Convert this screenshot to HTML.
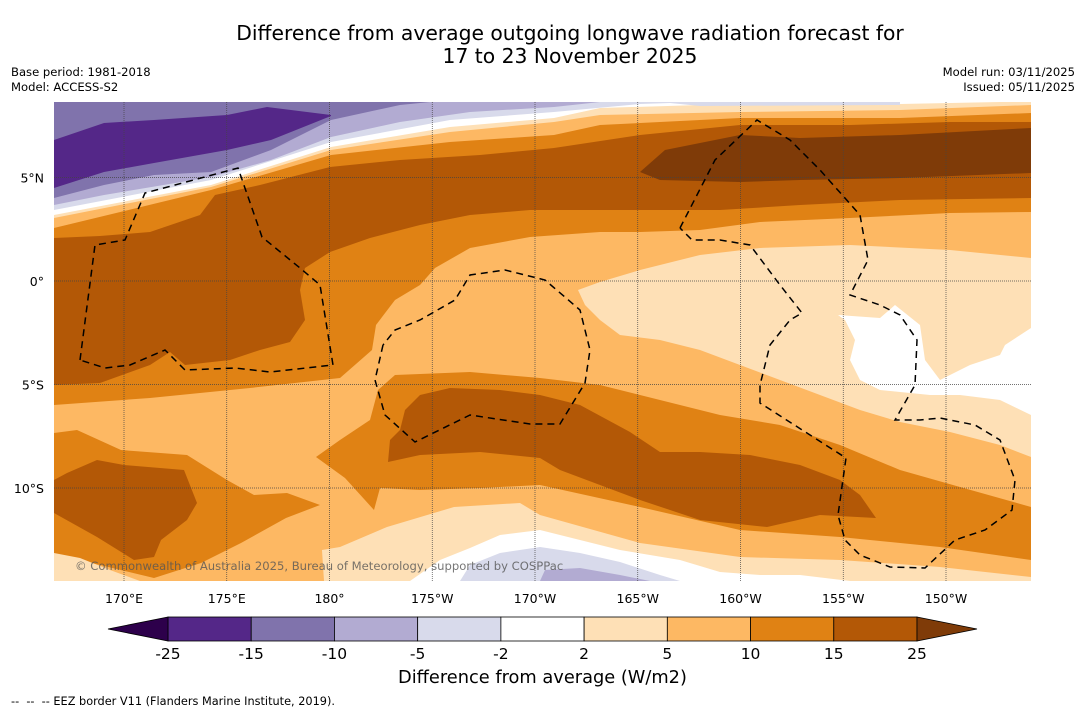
<!DOCTYPE html>
<html><head><meta charset="utf-8">
<style>
body{margin:0;background:#fff;font-family:"DejaVu Sans","Liberation Sans",sans-serif;}
#wrap{position:relative;width:1085px;height:713px;overflow:hidden;background:#fff;}
.t{position:absolute;white-space:nowrap;color:#000;}
</style></head>
<body>
<div id="wrap">
<div class="t" style="left:0;width:1140px;text-align:center;top:22px;font-size:20.3px;line-height:23px;">Difference from average outgoing longwave radiation forecast for<br>17 to 23 November 2025</div>
<div class="t" style="left:11px;top:65px;font-size:11.6px;">Base period: 1981-2018</div>
<div class="t" style="left:11px;top:80px;font-size:11.6px;">Model: ACCESS-S2</div>
<div class="t" style="right:10px;top:65px;font-size:11.6px;text-align:right;">Model run: 03/11/2025</div>
<div class="t" style="right:10px;top:80px;font-size:11.6px;text-align:right;">Issued: 05/11/2025</div>

<svg id="map" width="1085" height="713" style="position:absolute;left:0;top:0">
<defs><clipPath id="mc"><rect x="54" y="102" width="977" height="479"/></clipPath></defs>
<g clip-path="url(#mc)" id="fills">
<rect x="54" y="102" width="977" height="479" fill="#fdb863"/>
<polygon fill="#e08214" points="54,102 1031,102 1031,212 950,213 850,218 760,222 700,230 640,232 600,232 530,237 470,248 435,268 420,285 395,300 376,325 372,350 340,378 250,388 150,398 54,405"/>
<polygon fill="#b35806" points="54,102 1031,102 1031,198 900,200 800,205 720,210 640,210 530,210 470,215 420,225 370,238 330,252 305,268 300,290 305,320 290,342 260,350 230,360 185,365 170,352 150,365 100,383 54,385"/>
<polygon fill="#e08214" points="54,102 1031,102 1031,122 950,122 850,125 740,125 640,135 554,148 480,155 400,160 330,167 260,185 215,195 200,215 150,232 100,236 54,238"/>
<polygon fill="#7f3b08" points="640,172 665,150 740,135 800,138 900,135 1031,128 1031,173 900,178 800,180 740,182 660,180"/>
<polygon fill="#fdb863" points="54,102 1031,102 1031,113 900,118 740,118 600,125 554,135 450,142 331,155 211,190 54,228"/>
<polygon fill="#fee0b6" points="54,102 1031,102 1031,105 900,110 740,112 600,115 554,122 450,132 331,150 211,187 54,218"/>
<polygon fill="#ffffff" points="54,102 1000,102 900,104 800,104 700,105 600,108 554,118 450,127 331,147 211,185 54,215"/>
<polygon fill="#d8daeb" points="54,102 700,102 640,104 554,112 450,120 331,142 211,180 54,210"/>
<polygon fill="#d8daeb" points="660,102 900,102 900,105 700,106"/>
<polygon fill="#b2abd2" points="54,102 600,102 554,107 470,112 400,122 331,137 271,160 211,177 104,195 54,205"/>
<polygon fill="#8073ac" points="54,102 430,102 400,105 331,120 271,150 211,172 154,175 104,185 54,198"/>
<polygon fill="#542788" points="54,140 104,123 154,120 227,115 267,107 331,115 331,116 271,140 227,150 154,163 104,172 54,188"/>
<polygon fill="#fee0b6" points="578,290 600,282 640,270 700,255 760,248 850,245 950,250 1031,258 1031,457 1000,445 950,432 900,422 860,410 820,395 780,380 740,365 700,350 660,340 620,335 600,320 585,305"/>
<polygon fill="#ffffff" points="838,315 880,318 895,305 920,325 925,360 940,380 970,365 1000,355 1005,345 1031,328 1031,415 1000,400 960,395 930,395 880,390 860,380 850,360 855,340 845,320"/>
<polygon fill="#e08214" points="316,457 340,440 370,420 378,390 395,375 470,372 540,378 600,385 660,400 720,415 780,425 840,445 900,470 960,487 1031,507 1031,560 940,547 840,537 740,530 640,507 540,485 480,488 420,490 380,488 374,510 345,478"/>
<polygon fill="#b35806" points="388,462 390,440 400,430 405,410 420,395 450,388 500,390 540,395 580,405 630,432 660,452 700,452 750,455 800,465 840,480 860,495 876,518 820,515 767,527 700,520 640,500 600,485 560,470 540,458 480,452 420,455"/>
<polygon fill="#e08214" points="54,433 77,430 121,450 187,455 227,480 254,495 287,493 320,505 286,518 241,543 201,563 154,578 100,565 54,555"/>
<polygon fill="#b35806" points="54,480 67,473 97,460 124,465 184,470 197,503 187,520 161,540 154,557 134,560 97,537 54,513"/>
<polygon fill="#fee0b6" points="324,581 322,550 340,547 387,527 454,507 520,503 540,515 640,543 740,557 840,560 940,567 1031,577 1031,581"/>
<polygon fill="#fee0b6" points="54,553 80,558 110,570 140,581 54,581"/>
<polygon fill="#ffffff" points="410,581 440,560 470,548 500,535 540,530 580,540 620,550 680,560 720,572 760,575 800,575 850,581"/>
<polygon fill="#d8daeb" points="460,581 470,565 500,553 540,547 580,553 620,562 660,575 680,581"/>
<polygon fill="#b2abd2" points="540,581 545,570 580,568 620,575 650,581"/>
<g id="grid"></g>
<g fill="none" stroke="#000" stroke-width="1.5" stroke-dasharray="7,5">
<polyline points="80,360 95,245 125,240 145,193 175,185 238,168 262,237 300,268 320,285 333,365 270,372 235,368 185,370 165,350 130,365 105,368 80,360"/>
<polyline points="383,345 375,380 385,415 415,442 470,415 530,424 560,424 585,383 590,350 580,310 545,280 505,270 470,275 455,300 420,320 395,330 383,345"/>
<polyline points="680,228 715,160 757,120 790,140 820,170 860,215 868,260 850,295 880,305 900,315 917,340 915,385 895,420 920,420 940,418 975,425 1000,440 1015,480 1012,510 985,530 955,540 925,568 890,567 860,555 845,540 838,515 846,458 760,403 760,385 770,345 790,320 802,313 780,285 750,245 720,240 692,240 680,228"/>
</g>
</g>
<text x="75" y="570" font-size="11.6" fill="#555" fill-opacity="0.8" font-family="DejaVu Sans, sans-serif">© Commonwealth of Australia 2025, Bureau of Meteorology, supported by COSPPac</text>
<g id="axes"></g>
<g id="cbar"></g>
</svg>
<div class="t" style="left:0;width:1085px;text-align:center;top:667px;font-size:17.8px;">Difference from average (W/m2)</div>
<div class="t" style="left:11px;top:695px;font-size:11.3px;">-- &nbsp;-- &nbsp;-- EEZ border V11 (Flanders Marine Institute, 2019).</div>
</div>
<script>
const lonLabels=["170°E","175°E","180°","175°W","170°W","165°W","160°W","155°W","150°W"];
const lonValues=[170,175,180,185,190,195,200,205,210];
const latLabels=["5°N","0°","5°S","10°S"];
const latValues=[5,0,-5,-10];
const levels=["-25","-15","-10","-5","-2","2","5","10","15","25"];
const levelColors=["#542788","#8073ac","#b2abd2","#d8daeb","#ffffff","#fee0b6","#fdb863","#e08214","#b35806"];
const extendColors=["#2d004b","#7f3b08"];
const NS="http://www.w3.org/2000/svg";
const FF="DejaVu Sans, Liberation Sans, sans-serif";
function xLon(l){return 124+(l-170)*20.55;}
function yLat(l){return 281-l*20.7;}
function mk(tag,attrs,parent){const e=document.createElementNS(NS,tag);for(const k in attrs)e.setAttribute(k,attrs[k]);parent.appendChild(e);return e;}
const grid=document.getElementById('grid'),axes=document.getElementById('axes'),cb=document.getElementById('cbar');
lonValues.forEach((v,i)=>{
 const x=xLon(v);
 const l=mk('line',{x1:x,x2:x,y1:102,y2:581,stroke:'#444','stroke-width':0.7,'stroke-dasharray':'1,1'},grid);
 
 
 const t=mk('text',{x:x,y:603,'text-anchor':'middle','font-size':12.5,'font-family':FF},axes);
 t.textContent=lonLabels[i];
 
 
});
latValues.forEach((v,i)=>{
 const y=yLat(v);
 const l=mk('line',{x1:54,x2:1031,y1:y,y2:y,stroke:'#444','stroke-width':0.7,'stroke-dasharray':'1,1'},grid);
 
 
 const t=mk('text',{x:44,y:y+5,'text-anchor':'end','font-size':12.5,'font-family':FF},axes);
 t.textContent=latLabels[i];
 
 
});
const x0=168,x1=917,cy=617,ch=24,bw=(x1-x0)/levelColors.length;
levelColors.forEach((c,i)=>{
 const r=mk('rect',{x:x0+i*bw,y:cy,width:bw,height:ch,fill:c,stroke:'#000','stroke-width':0.8},cb);
 
 
});
const tl=mk('polygon',{points:`${x0},${cy} 108,${cy+ch/2} ${x0},${cy+ch}`,fill:extendColors[0],stroke:'#000','stroke-width':0.8},cb);


const tr=mk('polygon',{points:`${x1},${cy} 977,${cy+ch/2} ${x1},${cy+ch}`,fill:extendColors[1],stroke:'#000','stroke-width':0.8},cb);


levels.forEach((lv,i)=>{
 const t=mk('text',{x:x0+i*bw,y:659,'text-anchor':'middle','font-size':15.5,'font-family':FF},cb);
 t.textContent=lv;
 
 
});
</script>
</body></html>
